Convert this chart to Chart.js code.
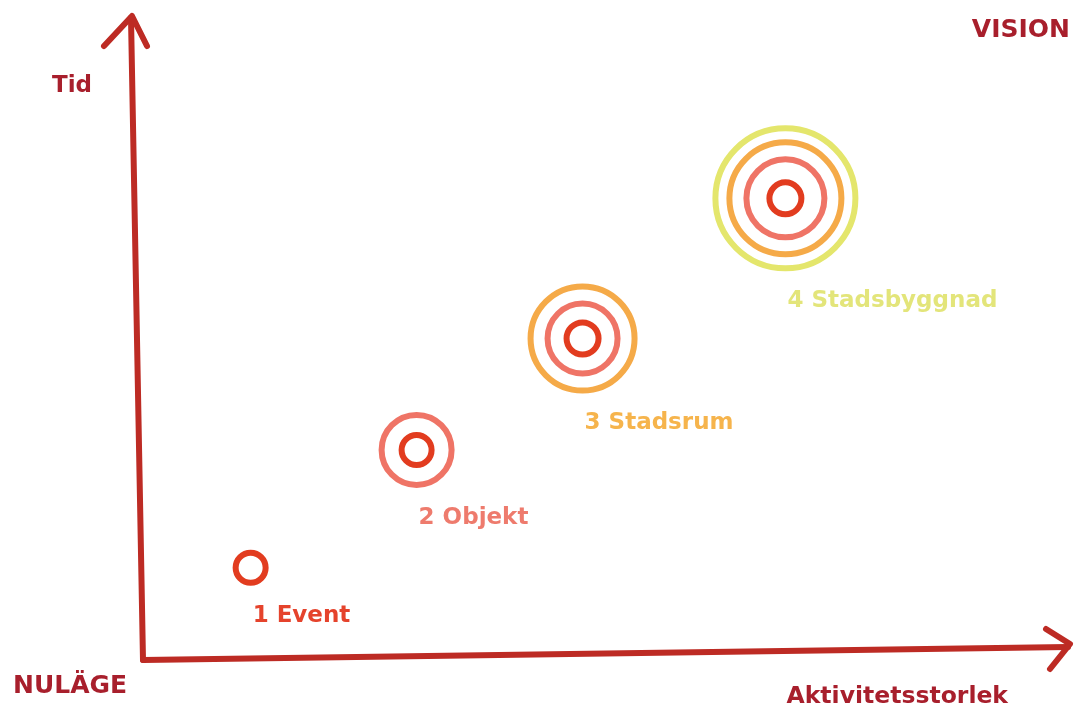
<!DOCTYPE html>
<html>
<head>
<meta charset="utf-8">
<script src="https://cdn.jsdelivr.net/npm/chart.js@4"></script>
<style>
  body { margin: 0; background: #fff; }
  #wrap { width: 1074px; height: 709px; }
</style>
</head>
<body>
<div id="wrap"><canvas id="chart" width="1074" height="709"></canvas></div>
<script>
// stages (0-100 on both axes)
const stages = ["1 Event", "2 Objekt", "3 Stadsrum", "4 Stadsbyggnad"];
const activity = [12, 30, 48, 70];   // Aktivitetsstorlek
const time = [14, 32.5, 50, 72];     // Tid
const ringCount = [1, 2, 3, 4];      // how many rings each stage has

// ring styles, innermost first (0 = no ring for that stage)
const ringColors = ["#e23c1f", "#ef7466", "#f5aa48", "#e4e66c"];
const ringRadii = [
  [15, 15, 16, 16],
  [0, 35, 35, 39],
  [0, 0, 52, 56],
  [0, 0, 0, 70]
];
const labelColors = ["#e5432c", "#ee7b6d", "#f6b44c", "#e3e57a"];
const axisColor = "#bd2b24";
const titleColor = "#a81f2c";

const points = stages.map((s, i) => ({ x: activity[i], y: time[i] }));

const datasets = ringColors.map((c, r) => ({
  label: "ring" + r,
  data: points,
  pointRadius: ringRadii[r],
  pointHoverRadius: ringRadii[r],
  pointBorderWidth: 6,
  pointHoverBorderWidth: 6,
  borderColor: c,
  pointBorderColor: c,
  backgroundColor: "rgba(0,0,0,0)",
  pointBackgroundColor: "rgba(0,0,0,0)",
  showLine: false
}));

const decor = {
  id: "decor",
  afterDraw(chart) {
    const ctx = chart.ctx;
    const a = chart.chartArea;
    ctx.save();
    ctx.strokeStyle = axisColor;
    ctx.lineWidth = 6;
    ctx.lineCap = "round";
    ctx.lineJoin = "round";

    // y axis with arrow (slightly leaning, like the sketch)
    ctx.beginPath();
    ctx.moveTo(a.left + 3, a.bottom + 3);
    ctx.lineTo(a.left - 9, a.top - 2);
    ctx.stroke();
    ctx.beginPath();
    ctx.moveTo(a.left - 36, a.top + 26);
    ctx.lineTo(a.left - 8, a.top - 4);
    ctx.lineTo(a.left + 7, a.top + 26);
    ctx.stroke();

    // x axis with arrow
    ctx.beginPath();
    ctx.moveTo(a.left + 3, a.bottom + 3);
    ctx.lineTo(a.right + 6, a.bottom - 10);
    ctx.stroke();
    ctx.beginPath();
    ctx.moveTo(a.right - 16, a.bottom - 28);
    ctx.lineTo(a.right + 8, a.bottom - 13);
    ctx.lineTo(a.right - 12, a.bottom + 12);
    ctx.stroke();

    // axis titles
    ctx.fillStyle = titleColor;
    ctx.textBaseline = "middle";
    ctx.textAlign = "left";
    ctx.font = "bold 23px 'DejaVu Sans', sans-serif";
    ctx.fillText("Tid", 52, 86);
    ctx.font = "bold 25px 'DejaVu Sans', sans-serif";
    ctx.fillText("NULÄGE", 13, 686);
    ctx.textAlign = "right";
    ctx.fillText("VISION", 1070, 30);
    ctx.font = "bold 23.5px 'DejaVu Sans', sans-serif";
    ctx.fillText("Aktivitetsstorlek", 1008, 697);

    // stage labels below the outer ring
    ctx.textAlign = "left";
    ctx.font = "bold 23px 'DejaVu Sans', sans-serif";
    const metas = chart.getSortedVisibleDatasetMetas();
    stages.forEach((s, i) => {
      const el = metas[0].data[i];
      const outer = ringRadii[ringCount[i] - 1][i];
      ctx.fillStyle = labelColors[i];
      ctx.fillText(s, el.x + 2, el.y + outer + 33);
    });
    ctx.restore();
  }
};

new Chart(document.getElementById("chart"), {
  type: "scatter",
  data: { datasets: datasets },
  options: {
    responsive: false,
    animation: false,
    layout: { autoPadding: false, padding: { left: 140, right: 12, top: 20, bottom: 52 } },
    plugins: {
      legend: { display: false },
      tooltip: { enabled: false }
    },
    scales: {
      x: { min: 0, max: 100, display: false },
      y: { min: 0, max: 100, display: false }
    }
  },
  plugins: [decor]
});
</script>
</body>
</html>
